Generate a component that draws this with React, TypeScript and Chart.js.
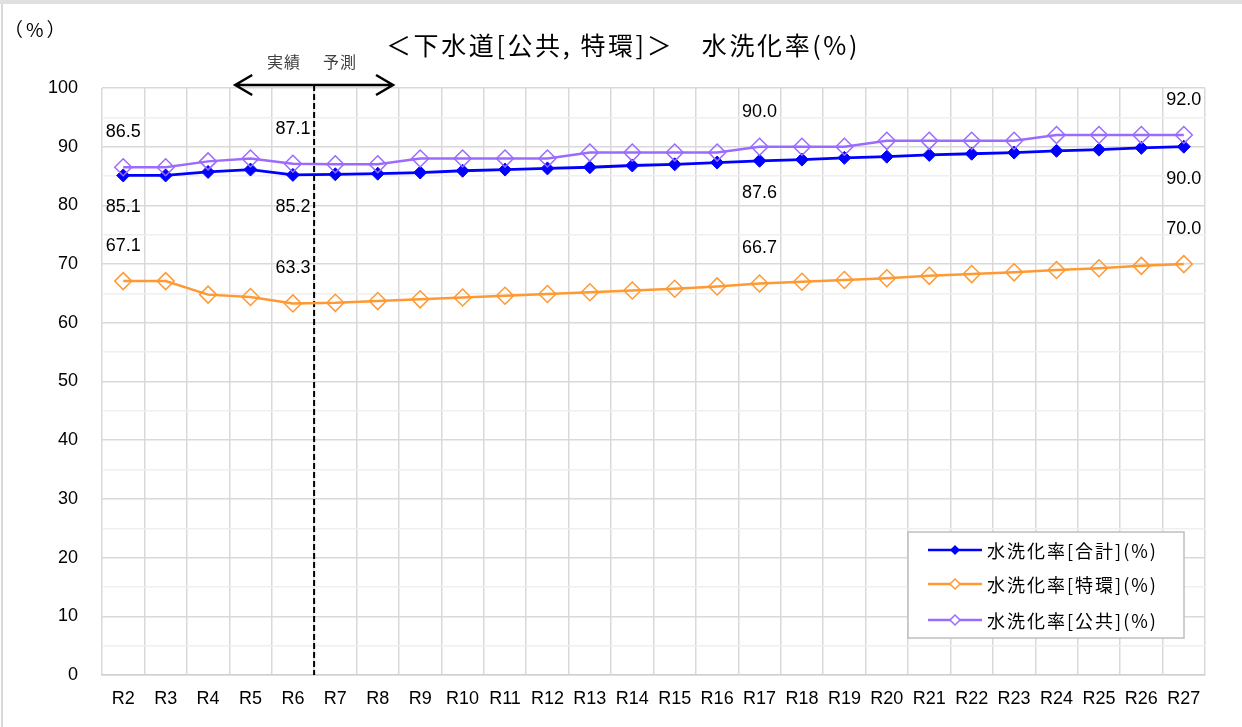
import React, { useEffect, useRef } from "react";
import { Chart, registerables } from "chart.js";

Chart.register(...registerables);

const categories = ["R2","R3","R4","R5","R6","R7","R8","R9","R10","R11","R12","R13","R14","R15","R16","R17","R18","R19","R20","R21","R22","R23","R24","R25","R26","R27"];
const totalRate = [85.1,85.1,85.7,86.1,85.2,85.3,85.4,85.6,85.9,86.1,86.3,86.5,86.8,87.0,87.3,87.6,87.8,88.1,88.3,88.6,88.8,89.0,89.3,89.5,89.8,90.0];
const tokkanRate = [67.1,67.1,64.8,64.4,63.3,63.4,63.7,64.0,64.3,64.6,64.9,65.2,65.5,65.8,66.2,66.7,67.0,67.3,67.6,68.0,68.3,68.6,69.0,69.3,69.7,70.0];
const kokyoRate = [86.5,86.5,87.5,88.0,87.1,87.0,87.0,88.0,88.0,88.0,88.0,89.0,89.0,89.0,89.0,90.0,90.0,90.0,91.0,91.0,91.0,91.0,92.0,92.0,92.0,92.0];
const seriesNames = ["水洗化率[合計](%)", "水洗化率[特環](%)", "水洗化率[公共](%)"];
const labelIndices = [0, 4, 15, 25];
const yTicks = [0, 10, 20, 30, 40, 50, 60, 70, 80, 90, 100];

const titleText = "＜下水道[公共, 特環]＞　水洗化率(%)";
const unitText = "（%）";
const actualText = "実績";
const forecastText = "予測";

const NUM_FONT = '"Liberation Sans Narrow", "Arial Narrow", "Liberation Sans", sans-serif';
const JP_FONT = '"Noto Sans CJK JP", "Noto Sans", sans-serif';

const decorPlugin = {
  id: "decor",
  beforeDatasetsDraw(chart: any) {
    const { ctx, scales } = chart;
    const x = scales.x;
    const y = scales.y;
    const dashX = (x.getPixelForValue(4) + x.getPixelForValue(5)) / 2;
    ctx.save();
    ctx.strokeStyle = "#000";
    ctx.lineWidth = 2;
    ctx.setLineDash([6, 3]);
    ctx.beginPath();
    ctx.moveTo(dashX, y.top - 3);
    ctx.lineTo(dashX, y.bottom);
    ctx.stroke();
    ctx.restore();
  },
  afterDraw(chart: any) {
    const { ctx, scales } = chart;
    const x = scales.x;
    const y = scales.y;
    const dashX = (x.getPixelForValue(4) + x.getPixelForValue(5)) / 2;
    const cat = x.getPixelForValue(1) - x.getPixelForValue(0);
    ctx.save();
    // arrow
    const ay = y.top - 3;
    const half = cat * 1.86;
    ctx.strokeStyle = "#000";
    ctx.lineWidth = 2.5;
    ctx.beginPath();
    ctx.moveTo(dashX - half, ay);
    ctx.lineTo(dashX + half, ay);
    ctx.moveTo(dashX - half + 17, ay - 10);
    ctx.lineTo(dashX - half, ay);
    ctx.lineTo(dashX - half + 17, ay + 10);
    ctx.moveTo(dashX + half - 17, ay - 10);
    ctx.lineTo(dashX + half, ay);
    ctx.lineTo(dashX + half - 17, ay + 10);
    ctx.stroke();
    // annotation text
    ctx.fillStyle = "#404040";
    ctx.font = `16px ${JP_FONT}`;
    ctx.textBaseline = "middle";
    ctx.letterSpacing = "1px";
    ctx.textAlign = "left";
    ctx.fillText(actualText, dashX - 47, 62);
    ctx.fillText(forecastText, dashX + 9, 62);
    // title
    ctx.fillStyle = "#000";
    ctx.font = `25px ${JP_FONT}`;
    ctx.letterSpacing = "2.6px";
    ctx.textAlign = "left";
    ctx.fillText(titleText, 386, 45);
    // unit
    ctx.font = `19px ${JP_FONT}`;
    ctx.letterSpacing = "3px";
    ctx.textAlign = "left";
    ctx.fillText(unitText, 4, 30);
    ctx.letterSpacing = "0px";
    // legend
    const lx = 908, ly = 532, lw = 276, lh = 106;
    ctx.fillStyle = "#fff";
    ctx.fillRect(lx, ly, lw, lh);
    ctx.strokeStyle = "#bfbfbf";
    ctx.lineWidth = 1.5;
    ctx.strokeRect(lx, ly, lw, lh);
    const rows = [550, 584, 620];
    chart.data.datasets.forEach((ds: any, i: number) => {
      const ry = rows[i];
      ctx.strokeStyle = ds.borderColor;
      ctx.lineWidth = 2.5;
      ctx.beginPath();
      ctx.moveTo(928, ry);
      ctx.lineTo(982, ry);
      ctx.stroke();
      const r = 5;
      ctx.beginPath();
      ctx.moveTo(955, ry - r);
      ctx.lineTo(955 + r, ry);
      ctx.lineTo(955, ry + r);
      ctx.lineTo(955 - r, ry);
      ctx.closePath();
      if (ds.legendFilled) {
        ctx.fillStyle = ds.borderColor;
        ctx.fill();
      } else {
        ctx.fillStyle = "#fff";
        ctx.fill();
        ctx.lineWidth = 1.5;
        ctx.stroke();
      }
      ctx.fillStyle = "#000";
      ctx.font = `18px ${JP_FONT}`;
      ctx.letterSpacing = "2px";
      ctx.textAlign = "left";
      ctx.fillText(ds.label, 987, ry + 1);
      ctx.letterSpacing = "0px";
    });
    ctx.restore();
  },
  afterDatasetsDraw(chart: any) {
    const { ctx } = chart;
    const opts = chart.options.plugins.pointLabels;
    ctx.save();
    ctx.fillStyle = "#000";
    ctx.font = `18px ${NUM_FONT}`;
    ctx.textAlign = "center";
    ctx.textBaseline = "middle";
    chart.data.datasets.forEach((ds: any, di: number) => {
      const meta = chart.getDatasetMeta(di);
      opts.indices.forEach((idx: number) => {
        const el = meta.data[idx];
        if (!el) return;
        const key = `${di}-${idx}`;
        const off = opts.override[key] !== undefined ? opts.override[key] : opts.offsets[di];
        ctx.fillText(Number(ds.data[idx]).toFixed(1), el.x, el.y + off);
      });
    });
    ctx.restore();
  },
};

export default function App() {
  const ref = useRef<HTMLCanvasElement>(null);
  useEffect(() => {
    if (!ref.current) return;
    const chart = new Chart(ref.current, {
      type: "line",
      data: {
        labels: categories,
        datasets: [
          {
            label: seriesNames[0],
            data: totalRate,
            borderColor: "#0000FF",
            backgroundColor: "#0000FF",
            borderWidth: 2.8,
            pointStyle: "rectRot",
            pointRadius: 6.5,
            pointBorderWidth: 1,
            order: 2,
            legendFilled: true,
          } as any,
          {
            label: seriesNames[1],
            data: tokkanRate,
            borderColor: "#FF9933",
            backgroundColor: "rgba(0,0,0,0)",
            borderWidth: 2.5,
            pointStyle: "rectRot",
            pointRadius: 8.5,
            pointBorderWidth: 1.5,
            order: 1,
          } as any,
          {
            label: seriesNames[2],
            data: kokyoRate,
            borderColor: "#9B6BFF",
            backgroundColor: "rgba(0,0,0,0)",
            borderWidth: 2.5,
            pointStyle: "rectRot",
            pointRadius: 8.5,
            pointBorderWidth: 1.5,
            order: 0,
          } as any,
        ],
      },
      options: {
        responsive: false,
        animation: false,
        devicePixelRatio: 1,
        layout: { padding: { left: 0, right: 37, top: 88, bottom: 0 } },
        plugins: {
          legend: { display: false },
          title: { display: false },
          tooltip: { enabled: false },
          pointLabels: {
            indices: labelIndices,
            offsets: [32, -35, -35],
            override: { "2-25": -15 },
          },
        } as any,
        scales: {
          x: {
            offset: true,
            grid: { offset: true, color: "#d9d9d9", lineWidth: 1.5, drawTicks: false },
            border: { color: "#d0d0d0", width: 1.5 },
            ticks: {
              padding: 13,
              color: "#000",
              font: { family: NUM_FONT, size: 18 },
              maxRotation: 0,
              autoSkip: false,
            },
            afterFit: (s: any) => { s.height = 52; },
          },
          y: {
            min: 0,
            max: 100,
            ticks: {
              stepSize: 5,
              padding: 24,
              color: "#000",
              font: { family: NUM_FONT, size: 18 },
              callback: (v: any) => (yTicks.includes(Number(v)) ? String(v) : ""),
            },
            grid: {
              drawTicks: false,
              lineWidth: 1.5,
              color: (c: any) => (c.tick && c.tick.value % 10 === 0 ? "#d9d9d9" : "#efefef"),
            },
            border: { display: false },
            afterFit: (s: any) => { s.width = 102; },
          },
        },
      } as any,
      plugins: [decorPlugin],
    });
    return () => chart.destroy();
  }, []);
  return (
    <div style={{ position: "absolute", left: 0, top: 0, width: 1242, height: 727, background: "#fff", overflow: "hidden" }}>
      <div style={{ position: "absolute", left: 0, top: 0, width: 1242, height: 4, background: "#e0e0e0" }} />
      <div style={{ position: "absolute", left: 1, top: 4, width: 1.5, height: 723, background: "#d9d9d9" }} />
      <canvas ref={ref} width={1242} height={727} style={{ display: "block", width: 1242, height: 727 }} />
    </div>
  );
}
